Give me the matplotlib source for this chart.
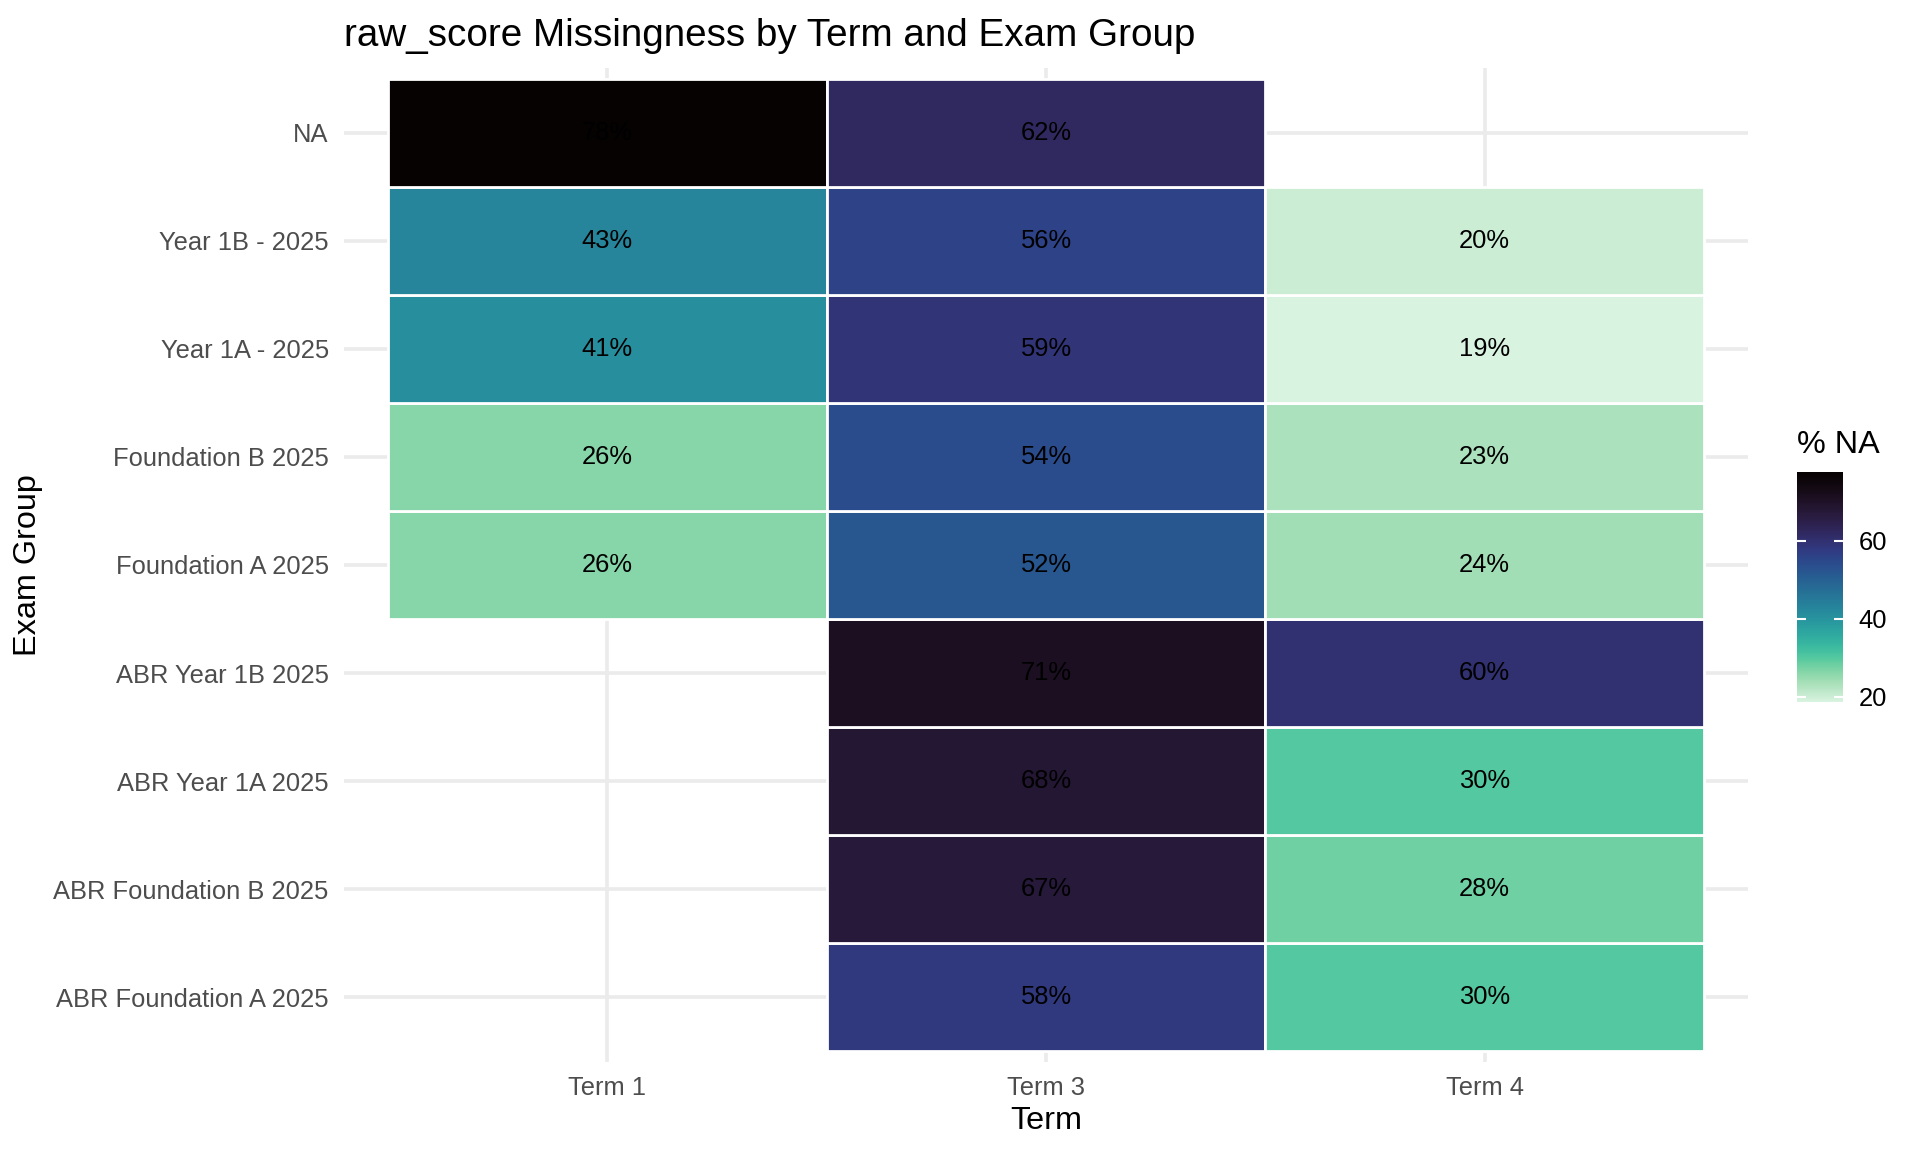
import matplotlib
matplotlib.use("Agg")
import matplotlib.pyplot as plt
from matplotlib.colors import ListedColormap, Normalize
import numpy as np
import seaborn as sns

plt.rcParams['font.family'] = ['Liberation Sans', 'DejaVu Sans']

# data
terms = ["Term 1", "Term 3", "Term 4"]
groups = ["ABR Foundation A 2025", "ABR Foundation B 2025", "ABR Year 1A 2025",
          "ABR Year 1B 2025", "Foundation A 2025", "Foundation B 2025",
          "Year 1A - 2025", "Year 1B - 2025", "NA"]
term1 = [np.nan, np.nan, np.nan, np.nan, 26, 26, 41, 43, 77.6]
term3 = [58, 67, 68, 71, 52, 54, 59, 56, 62]
term4 = [30, 28, 30, 60, 24, 23, 18.6, 20, np.nan]

vals = np.array([term1, term3, term4]).T  # rows = groups, cols = terms

# mako reversed, midtones a bit darker like the reference render
base = sns.color_palette("mako_r", 256)
cmap = ListedColormap(np.clip(np.array(base), 0, 1) ** 1.2)
norm = Normalize(vmin=np.nanmin(vals), vmax=np.nanmax(vals))

fig = plt.figure(figsize=(19.2, 11.52), dpi=100)
ax = fig.add_axes([344/1920, 1 - 1062/1152, (1748-344)/1920, (1062-68)/1152])

for i in range(len(groups)):
    for j in range(len(terms)):
        v = vals[i, j]
        if np.isnan(v):
            continue
        ax.bar(j + 1, 1, bottom=i + 0.5, width=1, color=cmap(norm(v)),
               edgecolor='white', linewidth=2, zorder=2)
        ax.text(j + 1, i + 1, f"{v:.0f}%", ha='center', va='center',
                fontsize=18.4, color='black', zorder=3)

ax.set_xlim(0.4, len(terms) + 0.6)
ax.set_ylim(0.4, len(groups) + 0.6)
ax.set_xticks(np.arange(1, len(terms) + 1))
ax.set_xticklabels(terms)
ax.set_yticks(np.arange(1, len(groups) + 1))
ax.set_yticklabels(groups)
ax.tick_params(axis='both', length=0, labelsize=18.4, labelcolor='#4D4D4D')
ax.tick_params(axis='x', pad=10)
ax.tick_params(axis='y', pad=11)
ax.grid(True, color='#EBEBEB', linewidth=2.6)
ax.set_axisbelow(True)
for s in ax.spines.values():
    s.set_visible(False)

fig.text(344/1920, 1 - 46/1152, "raw_score Missingness by Term and Exam Group",
         fontsize=27.8, va='baseline', ha='left')
fig.text(1046/1920, 1 - 1121/1152, "Term", fontsize=23.3, ha='center', va='center')
fig.text(28/1920, 1 - 565/1152, "Exam Group", fontsize=23.3, rotation=90,
         ha='center', va='center')

# colour bar
cax = fig.add_axes([1797/1920, 1 - 702/1152, 46/1920, 230/1152])
sm = plt.cm.ScalarMappable(norm=norm, cmap=cmap)
cb = fig.colorbar(sm, cax=cax)
cb.outline.set_visible(False)
cb.set_ticks([20, 40, 60])
cax.yaxis.set_ticks_position('both')
cax.tick_params(direction='in', color='white', length=6.5, width=1.5,
                labelsize=18.4, pad=11, labelleft=False, labelright=True)
fig.text(1797/1920, 1 - 445/1152, "% NA", fontsize=23.3, ha='left', va='center')

fig.savefig("out.png", dpi=100, facecolor='white')
